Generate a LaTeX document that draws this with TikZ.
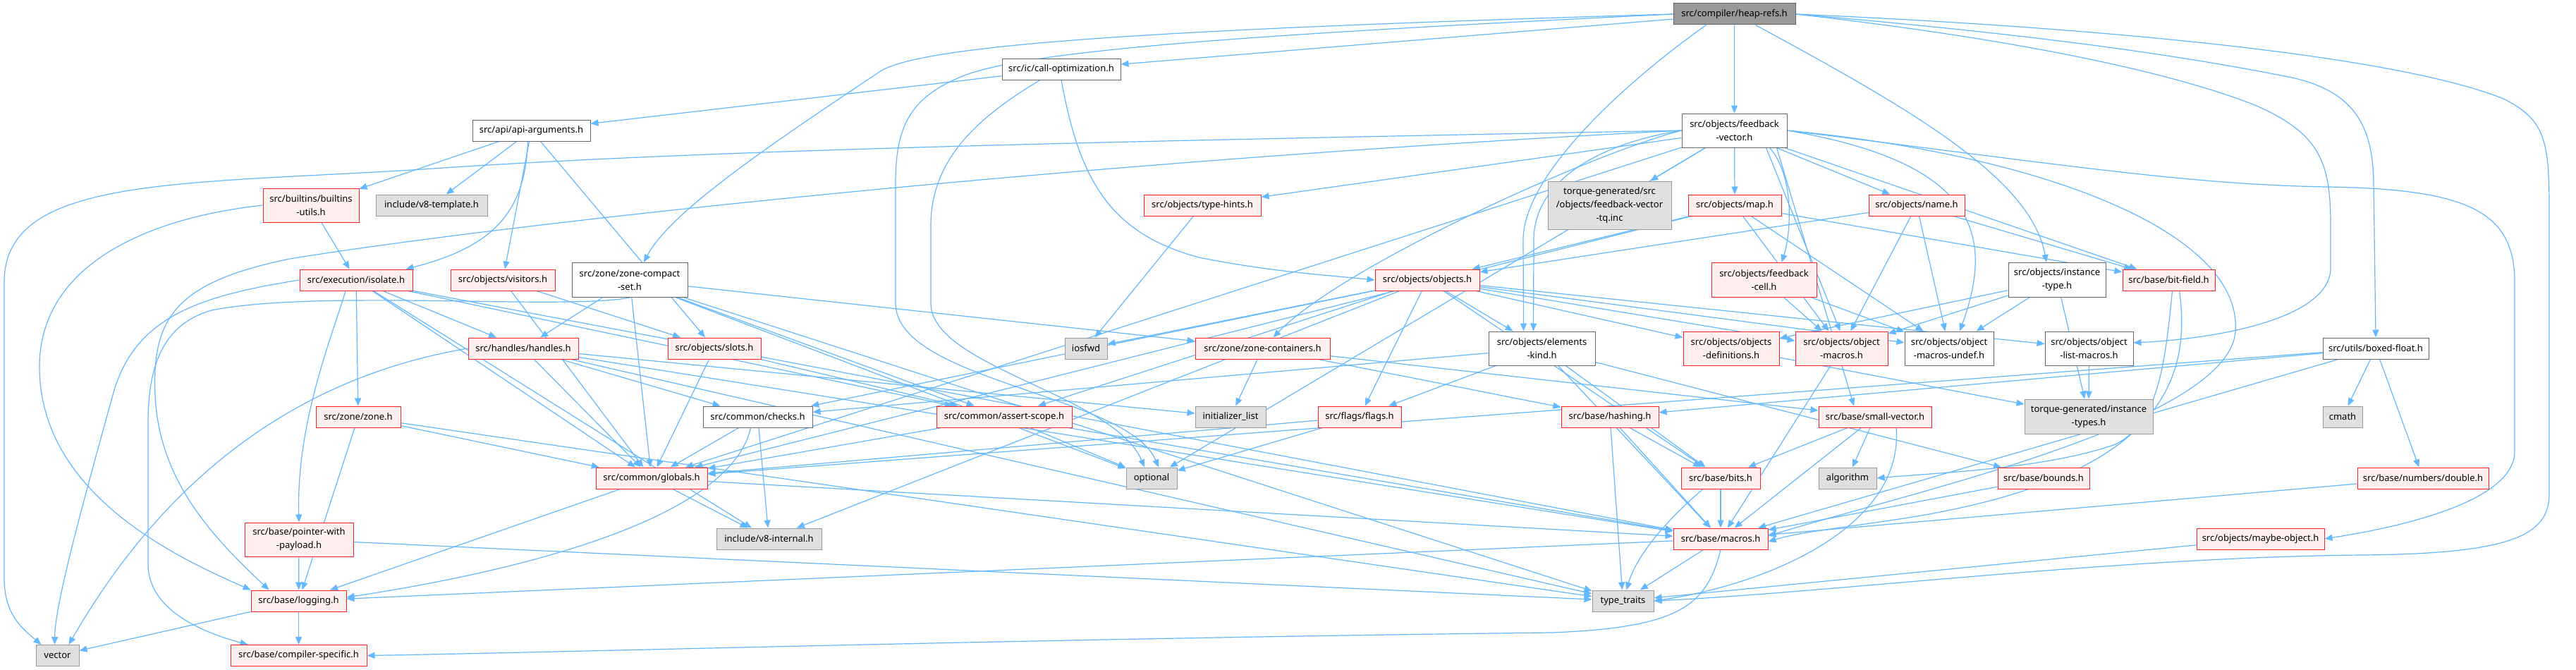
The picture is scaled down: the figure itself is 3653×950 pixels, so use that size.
\documentclass[tikz,border=0pt]{standalone}
\usepackage{fontspec}
\newfontfamily\nodefont{Noto Sans}
\usetikzlibrary{arrows.meta,backgrounds}
\definecolor{edgec}{HTML}{63B8FF}
\definecolor{rootfill}{HTML}{999999}
\definecolor{rootdraw}{HTML}{666666}
\definecolor{redfill}{HTML}{FFF0F0}
\definecolor{reddraw}{HTML}{FF2020}
\definecolor{extfill}{HTML}{E0E0E0}
\definecolor{extdraw}{HTML}{999999}
\newcommand{\edgeto}[2]{\draw[dep] (#1) -- (#2);}
\begin{document}
\begin{tikzpicture}[x=1pt,y=-1pt,
 nb/.style={rectangle,draw,line width=1pt,align=center,inner sep=1pt,minimum height=30pt,font={\nodefont\fontsize{13pt}{19pt}\selectfont}},
 root/.style={nb,fill=rootfill,draw=rootdraw},
 wn/.style={nb,fill=white,draw=rootdraw},
 rn/.style={nb,fill=redfill,draw=reddraw},
 gn/.style={nb,fill=extfill,draw=extdraw},
 dep/.style={draw=edgec,line width=1.2pt,-{Triangle[length=11pt,width=9pt]}}]
\useasboundingbox (0,0) rectangle (3653,950);
% nodes
\node[root,minimum width=173pt] (heaprefs) at (2459.5,20) {src/compiler/heap-refs.h};
\node[wn,minimum width=168pt] (callopt) at (1505,98) {src/ic/call-optimization.h};
\node[wn,minimum width=167pt] (apiargs) at (753.5,185) {src/api/api-arguments.h};
\node[wn,minimum width=149pt,minimum height=48pt] (fbvec) at (2459.5,185) {src/objects/feedback\\-vector.h};
\node[rn,minimum width=136pt,minimum height=48pt] (builtins) at (441,291) {src/builtins/builtins\\-utils.h};
\node[gn,minimum width=158pt] (v8tmpl) at (612,291) {include/v8-template.h};
\node[rn,minimum width=166pt] (typehints) at (1705,291) {src/objects/type-hints.h};
\node[gn,minimum width=175pt,minimum height=68pt] (tqinc) at (2282.5,291) {torque-generated/src\\/objects/feedback-vector\\-tq.inc};
\node[rn,minimum width=132pt] (map) at (2460,291) {src/objects/map.h};
\node[rn,minimum width=136pt] (name) at (2718,291) {src/objects/name.h};
\node[rn,minimum width=160pt] (isolate) at (505,397) {src/execution/isolate.h};
\node[rn,minimum width=148pt] (visitors) at (713,397) {src/objects/visitors.h};
\node[wn,minimum width=164pt,minimum height=49pt] (zcset) at (893,397) {src/zone/zone-compact\\-set.h};
\node[rn,minimum width=148pt] (objects) at (2024,397) {src/objects/objects.h};
\node[rn,minimum width=149pt,minimum height=49pt] (fbcell) at (2501.5,397) {src/objects/feedback\\-cell.h};
\node[wn,minimum width=138pt,minimum height=49pt] (insttype) at (2917,397) {src/objects/instance\\-type.h};
\node[rn,minimum width=131pt] (bitfield) at (3075.5,397) {src/base/bit-field.h};
\node[rn,minimum width=156pt] (handles) at (742,494) {src/handles/handles.h};
\node[rn,minimum width=132pt] (slots) at (1013,494) {src/objects/slots.h};
\node[gn,minimum width=60pt] (iosfwd) at (1540,494) {iosfwd};
\node[rn,minimum width=191pt] (zcont) at (1790.5,494) {src/zone/zone-containers.h};
\node[wn,minimum width=151pt,minimum height=48pt] (elemkind) at (2186.5,494) {src/objects/elements\\-kind.h};
\node[rn,minimum width=136pt,minimum height=48pt] (objdefs) at (2455,494) {src/objects/objects\\-definitions.h};
\node[rn,minimum width=131pt,minimum height=48pt] (objmacros) at (2611.5,494) {src/objects/object\\-macros.h};
\node[wn,minimum width=126pt,minimum height=48pt] (undef) at (2764,494) {src/objects/object\\-macros-undef.h};
\node[wn,minimum width=125pt,minimum height=48pt] (listmacros) at (2962.5,494) {src/objects/object\\-list-macros.h};
\node[wn,minimum width=150pt] (boxed) at (3369,494) {src/utils/boxed-float.h};
\node[rn,minimum width=120pt] (zone) at (508,591) {src/zone/zone.h};
\node[wn,minimum width=155pt] (checks) at (1074.5,591) {src/common/checks.h};
\node[rn,minimum width=192pt] (assert) at (1424,591) {src/common/assert-scope.h};
\node[gn,minimum width=100pt] (initlist) at (1745,591) {initializer\_list};
\node[rn,minimum width=118pt] (flags) at (1928,591) {src/flags/flags.h};
\node[rn,minimum width=138pt] (hashing) at (2283,591) {src/base/hashing.h};
\node[rn,minimum width=160pt] (smallvec) at (2659,591) {src/base/small-vector.h};
\node[gn,minimum width=182pt,minimum height=49pt] (insttypes) at (2962,590.5) {torque-generated/instance\\-types.h};
\node[gn,minimum width=56pt] (cmath) at (3322,591) {cmath};
\node[rn,minimum width=158pt] (globals) at (924,678) {src/common/globals.h};
\node[gn,minimum width=72pt] (optional) at (1633,678) {optional};
\node[rn,minimum width=112pt] (bits) at (2440,678) {src/base/bits.h};
\node[gn,minimum width=82pt] (algorithm) at (2620,678) {algorithm};
\node[rn,minimum width=130pt] (bounds) at (2898,678) {src/base/bounds.h};
\node[rn,minimum width=186pt] (double) at (3436,678) {src/base/numbers/double.h};
\node[rn,minimum width=154pt,minimum height=48pt] (ptrpayload) at (424,765) {src/base/pointer-with\\-payload.h};
\node[gn,minimum width=149pt] (v8internal) at (1090.5,764) {include/v8-internal.h};
\node[rn,minimum width=134pt] (macros) at (2440,764) {src/base/macros.h};
\node[rn,minimum width=181pt] (maybeobj) at (3205.5,764) {src/objects/maybe-object.h};
\node[rn,minimum width=135pt] (logging) at (423.5,852) {src/base/logging.h};
\node[gn,minimum width=87pt] (typetraits) at (2301.5,852) {type\_traits};
\node[gn,minimum width=61pt] (vector) at (81.5,929.5) {vector};
\node[rn,minimum width=193pt] (compspec) at (423.5,929.5) {src/base/compiler-specific.h};
\begin{pgfonlayer}{background}
\fill[white] (0,0) rectangle (3653,950);
% heap-refs
\edgeto{heaprefs}{callopt}
\edgeto{heaprefs}{fbvec}
\draw[dep] (heaprefs.west) .. controls (1700,40) and (1320,60) .. (1250,100) .. controls (1100,200) and (950,300) .. ([xshift=20pt]zcset.north);
\draw[dep] (heaprefs.west) .. controls (1800,48) and (1450,70) .. (1360,110) .. controls (1290,140) and (1270,180) .. (1270,260) -- (1270,430) .. controls (1270,540) and (1600,560) .. ([xshift=10pt]optional.north);
\draw[dep] ([xshift=-40pt]heaprefs.south) .. controls (2300,120) and (2160,250) .. (2160,340) -- ([xshift=-26pt]elemkind.north);
\draw[dep] ([xshift=30pt]heaprefs.south) .. controls (2700,150) and (2880,250) .. ([xshift=-15pt]insttype.north);
\draw[dep] (heaprefs.east) .. controls (2900,60) and (3100,110) .. (3200,150) .. controls (3290,190) and (3305,230) .. (3305,320) -- (3305,380) .. controls (3305,450) and (3150,480) .. ([yshift=8pt]listmacros.east);
\draw[dep] (heaprefs.east) .. controls (2900,50) and (3100,80) .. (3250,110) .. controls (3340,130) and (3365,180) .. (3366,260) -- (boxed.north);
\draw[dep] (heaprefs.east) .. controls (3000,40) and (3400,80) .. (3550,140) .. controls (3610,170) and (3615,200) .. (3615,300) -- (3615,700) .. controls (3615,760) and (3560,785) .. (3350,787) .. controls (3000,790) and (2600,840) .. (typetraits.east);
% call-optimization
\edgeto{callopt}{apiargs}
\draw[dep] ([xshift=-30pt]callopt.south) .. controls (1380,170) and (1320,230) .. (1320,320) -- (1320,430) .. controls (1320,520) and (1580,560) .. ([xshift=-10pt]optional.north);
\draw[dep] (callopt.south) .. controls (1530,250) and (1570,330) .. (1700,365) .. controls (1800,385) and (1880,390) .. (objects.west);
% api-arguments
\edgeto{apiargs}{builtins}
\edgeto{apiargs}{v8tmpl}
\draw[dep] ([xshift=-5pt]apiargs.south) .. controls (745,300) and (700,350) .. ([xshift=-10pt]isolate.north east);
\edgeto{apiargs}{visitors}
\edgeto{apiargs}{slots}
% feedback-vector
\draw[dep] (fbvec.west) .. controls (1600,200) and (1000,212) .. (600,240) .. controls (250,262) and (6,250) .. (6,400) -- (6,820) .. controls (6,870) and (30,890) .. ([xshift=8pt]vector.north west);
\draw[dep] (fbvec.west) .. controls (1500,230) and (700,320) .. (411,367) .. controls (250,400) and (215,450) .. (220,560) .. controls (225,680) and (300,760) .. ([xshift=-42pt]logging.north);
\edgeto{fbvec}{typehints}
\edgeto{fbvec}{tqinc}
\edgeto{fbvec}{map}
\edgeto{fbvec}{name}
\draw[dep] ([xshift=50pt]fbvec.south) .. controls (2545,250) and (2540,330) .. ([xshift=25pt]fbcell.north);
\draw[dep] ([xshift=45pt]fbvec.south) -- ([xshift=-2pt]objmacros.north);
\draw[dep] (fbvec.east) .. controls (2800,230) and (2830,330) .. ([xshift=15pt]undef.north);
\edgeto{fbvec}{bitfield}
\draw[dep] (fbvec.east) .. controls (2900,230) and (3100,262) .. (3300,265) .. controls (3500,268) and (3566,300) .. (3566,400) -- (3566,640) .. controls (3566,700) and (3450,740) .. (maybeobj.east);
\draw[dep] (fbvec.east) .. controls (2900,220) and (3180,330) .. (3170,470) .. controls (3160,600) and (2700,700) .. ([yshift=4pt]macros.east);
\draw[dep] ([xshift=60pt]fbvec.south) -- ([xshift=-30pt]smallvec.north);
\edgeto{fbvec}{globals}
\edgeto{fbvec}{optional}
\draw[dep] (fbvec.west) .. controls (2260,205) and (2175,260) .. (2175,340) -- ([xshift=-12pt]elemkind.north);
\draw[dep] (fbvec.west) .. controls (2250,220) and (1900,380) .. ([xshift=15pt]zcont.north);
% builtins-utils
\edgeto{builtins}{isolate}
\draw[dep] (builtins.west) .. controls (200,310) and (56,380) .. (56,520) .. controls (56,700) and (250,790) .. (logging.north west);
% isolate
\draw[dep] (isolate.west) .. controls (280,420) and (190,450) .. (160,560) .. controls (110,740) and (78,860) .. ([xshift=-4pt]vector.north);
\draw[dep] ([xshift=-15pt]isolate.south) .. controls (470,480) and (420,600) .. (ptrpayload.north);
\edgeto{isolate}{zone}
\edgeto{isolate}{handles}
\edgeto{isolate}{globals}
\edgeto{isolate}{assert}
\edgeto{isolate}{macros}
\edgeto{isolate}{v8internal}
% visitors
\edgeto{visitors}{slots}
\edgeto{visitors}{globals}
% zone-compact-set
\edgeto{zcset}{handles}
\edgeto{zcset}{zcont}
\edgeto{zcset}{assert}
\edgeto{zcset}{typetraits}
\edgeto{zcset}{optional}
\edgeto{zcset}{globals}
\draw[dep] (zcset.south) .. controls (800,440) and (450,410) .. (300,440) .. controls (230,460) and (210,520) .. (210,600) -- (210,800) .. controls (210,870) and (300,900) .. ([xshift=25pt]compspec.north west);
% map
\edgeto{map}{objects}
\edgeto{map}{bitfield}
\edgeto{map}{globals}
\edgeto{map}{objmacros}
\edgeto{map}{undef}
% name
\edgeto{name}{objects}
\edgeto{name}{objmacros}
\edgeto{name}{undef}
\edgeto{name}{bitfield}
% type-hints
\edgeto{typehints}{iosfwd}
% objects
\edgeto{objects}{iosfwd}
\edgeto{objects}{v8internal}
\edgeto{objects}{bits}
\edgeto{objects}{assert}
\edgeto{objects}{checks}
\edgeto{objects}{flags}
\edgeto{objects}{elemkind}
\edgeto{objects}{listmacros}
\edgeto{objects}{objdefs}
\edgeto{objects}{objmacros}
\edgeto{objects}{undef}
% feedback-cell
\edgeto{fbcell}{objmacros}
\edgeto{fbcell}{undef}
% instance-type
\edgeto{insttype}{objmacros}
\edgeto{insttype}{undef}
\edgeto{insttype}{insttypes}
\edgeto{insttype}{objdefs}
% bit-field
\draw[dep] ([xshift=5pt]bitfield.south) .. controls (3070,520) and (3060,600) .. (3000,630) .. controls (2900,665) and (2750,670) .. (algorithm.east);
\draw[dep] ([xshift=15pt]bitfield.south) .. controls (3110,550) and (3050,680) .. (2700,735) .. controls (2600,750) and (2550,755) .. ([yshift=-4pt]macros.east);
% handles
\edgeto{handles}{checks}
\edgeto{handles}{globals}
\draw[dep] (handles.west) .. controls (450,530) and (250,650) .. ([xshift=16pt]vector.north);
\edgeto{handles}{typetraits}
\edgeto{handles}{macros}
\edgeto{handles}{initlist}
% slots
\edgeto{slots}{globals}
\edgeto{slots}{assert}
% zone-containers
\edgeto{zcont}{initlist}
\edgeto{zcont}{hashing}
\edgeto{zcont}{smallvec}
% elements-kind
\edgeto{elemkind}{checks}
\edgeto{elemkind}{flags}
\edgeto{elemkind}{macros}
\edgeto{elemkind}{bits}
\edgeto{elemkind}{bounds}
% objects-definitions, object-macros, list-macros
\edgeto{objdefs}{insttypes}
\edgeto{objmacros}{macros}
\edgeto{listmacros}{insttypes}
% boxed-float
\edgeto{boxed}{cmath}
\edgeto{boxed}{double}
\edgeto{boxed}{macros}
\edgeto{boxed}{hashing}
\edgeto{boxed}{globals}
% zone
\edgeto{zone}{globals}
\edgeto{zone}{logging}
\edgeto{zone}{typetraits}
% checks
\edgeto{checks}{globals}
\edgeto{checks}{v8internal}
\draw[dep] ([xshift=-10pt]checks.south) .. controls (1040,720) and (800,800) .. ([yshift=5pt]logging.east);
% assert-scope
\edgeto{assert}{globals}
\edgeto{assert}{optional}
\edgeto{assert}{macros}
% flags
\edgeto{flags}{globals}
\edgeto{flags}{optional}
% hashing
\edgeto{hashing}{bits}
\edgeto{hashing}{macros}
\edgeto{hashing}{typetraits}
% small-vector
\edgeto{smallvec}{bits}
\edgeto{smallvec}{algorithm}
\edgeto{smallvec}{macros}
\draw[dep] ([xshift=30pt]smallvec.south) .. controls (2700,750) and (2500,830) .. (typetraits.east);
% globals
\edgeto{globals}{v8internal}
\edgeto{globals}{logging}
\edgeto{globals}{macros}
% bits, bounds, double
\edgeto{bits}{macros}
\draw[dep] ([xshift=-25pt]bits.south) .. controls (2360,740) and (2320,790) .. ([xshift=5pt]typetraits.north);
\edgeto{bounds}{macros}
\edgeto{double}{macros}
% pointer-with-payload
\edgeto{ptrpayload}{logging}
\edgeto{ptrpayload}{typetraits}
% macros
\edgeto{macros}{typetraits}
\edgeto{macros}{logging}
\draw[dep] (macros.south) .. controls (2420,860) and (2380,890) .. (2200,897) .. controls (1500,905) and (800,925) .. (compspec.east);
% maybe-object, logging
\edgeto{maybeobj}{typetraits}
\edgeto{logging}{vector}
\edgeto{logging}{compspec}
\end{pgfonlayer}
\end{tikzpicture}
\end{document}
